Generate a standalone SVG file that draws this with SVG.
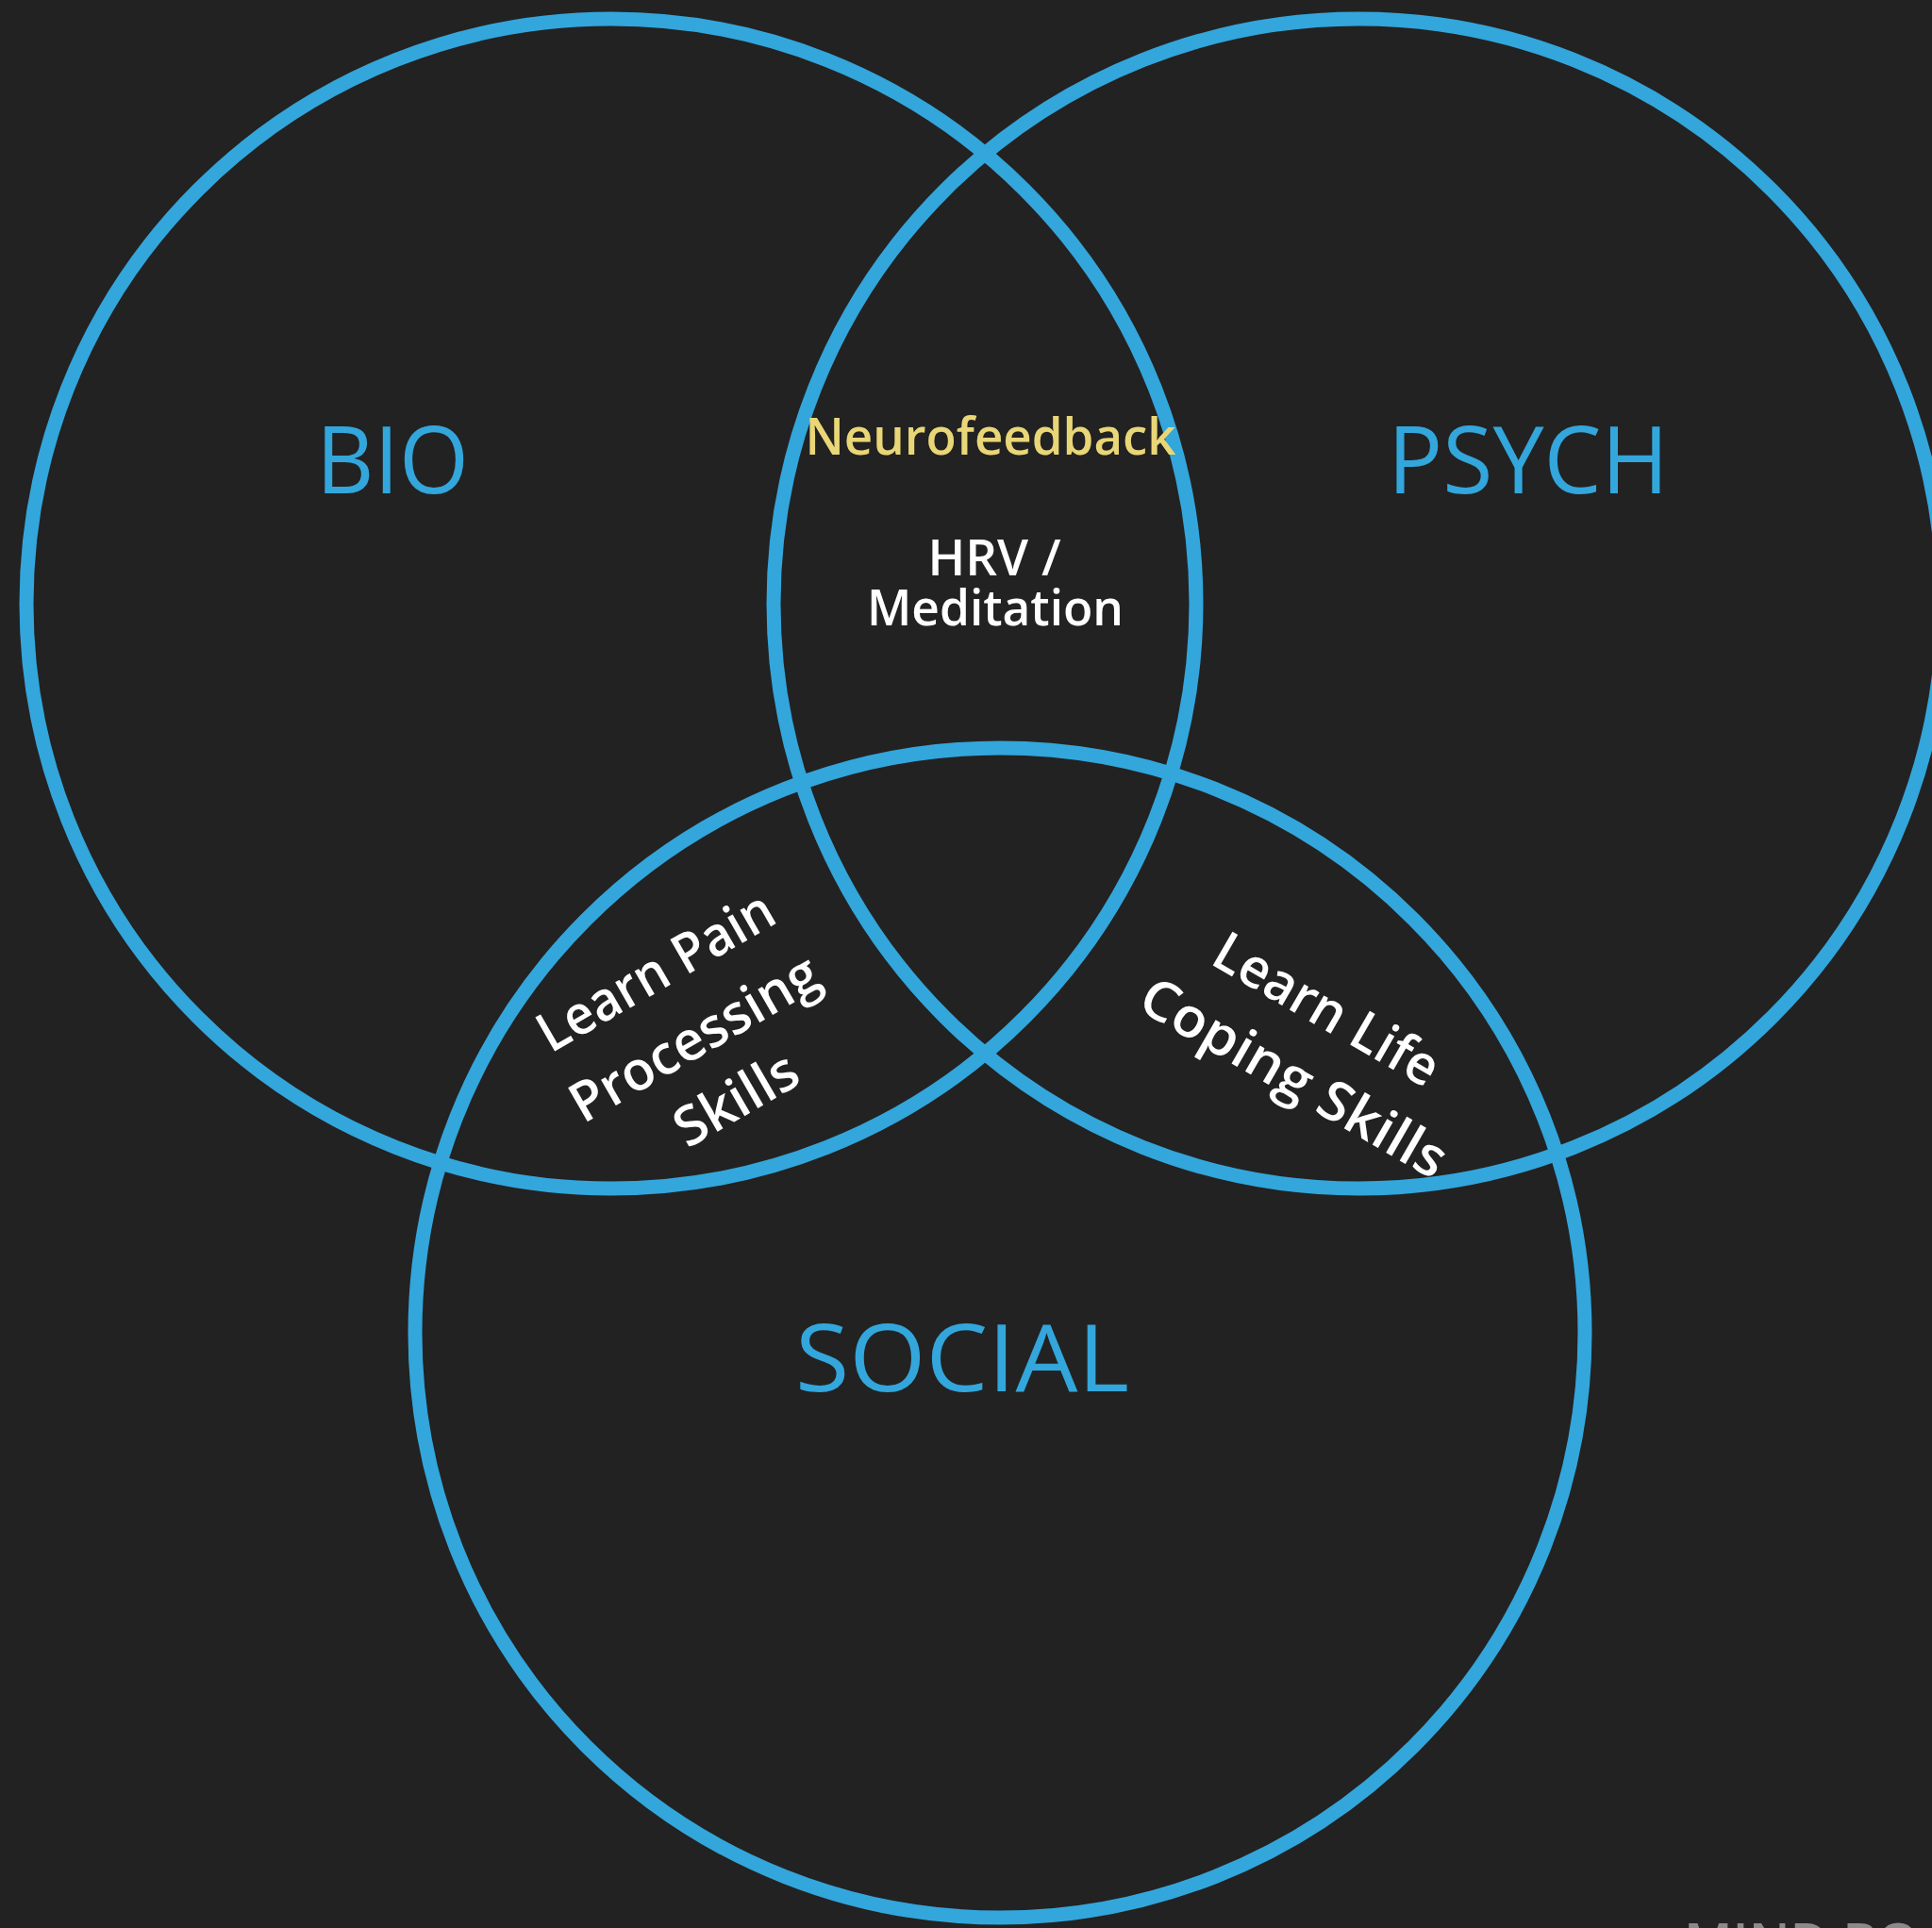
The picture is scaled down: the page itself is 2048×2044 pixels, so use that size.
<svg xmlns="http://www.w3.org/2000/svg" width="2048" height="2044" viewBox="0 0 2048 2044">
  <style>
    .ring { fill: none; stroke: #33A6DC; stroke-width: 15; }
    .set { font-family: "Open Sans", "Liberation Sans", sans-serif; font-size: 99px; fill: #33A6DC; text-anchor: middle; }
    .lbl { font-family: "Open Sans", "Liberation Sans", sans-serif; font-weight: 600; fill: #FFFFFF; text-anchor: middle; }
    .hl { fill: #E9D677; }
    .mark { font-family: "Open Sans", "Liberation Sans", sans-serif; font-weight: 600; font-size: 56px; fill: #8A8A8A; }
  </style>
  <rect x="0" y="0" width="2048" height="2044" fill="#222222"/>

  <g id="bio">
    <circle class="ring" cx="648" cy="640" r="620"/>
    <text class="set" x="416" y="523" textLength="162" lengthAdjust="spacingAndGlyphs">BIO</text>
  </g>
  <g id="psych">
    <circle class="ring" cx="1440" cy="640" r="620"/>
    <text class="set" x="1620" y="523" textLength="298" lengthAdjust="spacingAndGlyphs">PSYCH</text>
  </g>
  <g id="social">
    <circle class="ring" cx="1060" cy="1413" r="620"/>
    <text class="set" x="1020" y="1475" font-size="102" textLength="354" lengthAdjust="spacingAndGlyphs">SOCIAL</text>
  </g>

  <g id="bio-psych">
    <text class="lbl hl" x="1050" y="482" font-size="54" textLength="393" lengthAdjust="spacingAndGlyphs">Neurofeedback</text>
    <text class="lbl" x="1054" y="610" font-size="53">HRV /</text>
    <text class="lbl" x="1055" y="663" font-size="53" textLength="272" lengthAdjust="spacingAndGlyphs">Meditation</text>
  </g>

  <g id="bio-social" transform="translate(746,1118) rotate(-30)">
    <text class="lbl" x="0" y="-82" font-size="58" textLength="280" lengthAdjust="spacingAndGlyphs">Learn Pain</text>
    <text class="lbl" x="0" y="0" font-size="58" textLength="295" lengthAdjust="spacingAndGlyphs">Processing</text>
    <text class="lbl" x="6" y="78" font-size="58">Skills</text>
  </g>

  <g id="psych-social" transform="translate(1399,1089) rotate(30)">
    <text class="lbl" x="-3" y="0" font-size="58" textLength="266" lengthAdjust="spacingAndGlyphs">Learn Life</text>
    <text class="lbl" x="3" y="80" font-size="58" textLength="365" lengthAdjust="spacingAndGlyphs">Coping Skills</text>
  </g>

  <g id="connectors"></g>

  <text class="mark" x="1785" y="2079">MIND BO</text>
</svg>
